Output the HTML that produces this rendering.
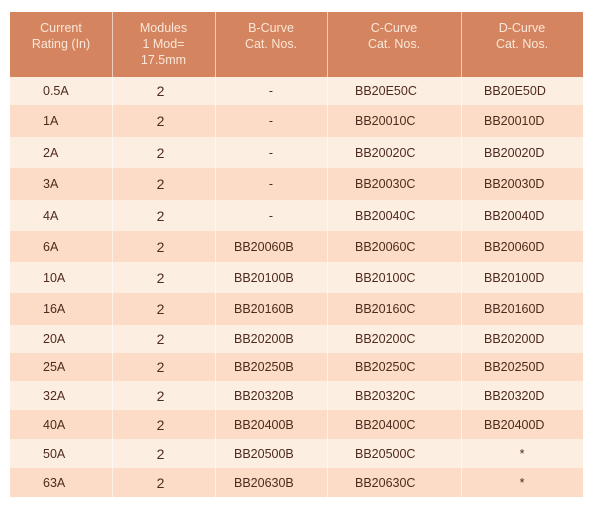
<!DOCTYPE html><html><head><style>
body{margin:0;width:603px;height:514px;background:#fff;position:relative;font-family:"Liberation Sans",sans-serif;overflow:hidden}
.r{position:absolute;left:10px;width:573px}
.c{position:absolute;top:0;bottom:0;display:flex;align-items:center;color:#4e2a1e;font-size:12.5px}
.h .c{color:#fbe6d8;font-size:12.5px;text-align:center;justify-content:center;line-height:16px;align-items:flex-start;padding-top:8px;box-sizing:border-box}
.v{position:absolute;top:0;bottom:0;width:1px;background:rgba(255,255,255,.6)}
</style></head><body>
<div id="t"></div>
<script>
var b=[77,105,137,168,200,231,262,293,325,353,381,410,439,468,497];
var rows=[["0.5A","-","BB20E50C","BB20E50D"],["1A","-","BB20010C","BB20010D"],["2A","-","BB20020C","BB20020D"],["3A","-","BB20030C","BB20030D"],["4A","-","BB20040C","BB20040D"],["6A","BB20060B","BB20060C","BB20060D"],["10A","BB20100B","BB20100C","BB20100D"],["16A","BB20160B","BB20160C","BB20160D"],["20A","BB20200B","BB20200C","BB20200D"],["25A","BB20250B","BB20250C","BB20250D"],["32A","BB20320B","BB20320C","BB20320D"],["40A","BB20400B","BB20400C","BB20400D"],["50A","BB20500B","BB20500C","*"],["63A","BB20630B","BB20630C","*"]];
var vs=[102,205,317,451];
function lines(){return vs.map(x=>'<div class="v" style="left:'+x+'px"></div>').join('')}
var h='<div class="r h" style="top:12px;height:65px;background:#d4855f">'+lines()+
'<div class="c" style="left:0;width:102px">Current<br>Rating (In)</div>'+
'<div class="c" style="left:102px;width:103px">Modules<br>1 Mod=<br>17.5mm</div>'+
'<div class="c" style="left:205px;width:112px">B-Curve<br>Cat. Nos.</div>'+
'<div class="c" style="left:317px;width:134px">C-Curve<br>Cat. Nos.</div>'+
'<div class="c" style="left:451px;width:122px">D-Curve<br>Cat. Nos.</div></div>';
rows.forEach(function(r,i){
var bg=i%2?'#fcdcc6':'#fdeee2';
var dash=r[1]=='-';var star=r[3]=='*';
h+='<div class="r" style="top:'+b[i]+'px;height:'+(b[i+1]-b[i])+'px;background:'+bg+'">'+lines()+
'<div class="c" style="left:33px">'+r[0]+'</div>'+
'<div class="c" style="left:99px;width:103px;justify-content:center;font-size:14px">2</div>'+
'<div class="c" style="'+(dash?'left:205px;width:112px;justify-content:center':'left:224px')+'">'+r[1]+'</div>'+
'<div class="c" style="left:345px">'+r[2]+'</div>'+
'<div class="c" style="'+(star?'left:451px;width:122px;justify-content:center':'left:474px')+'">'+r[3]+'</div></div>';
});
document.getElementById('t').innerHTML=h;
</script>
</body></html>
